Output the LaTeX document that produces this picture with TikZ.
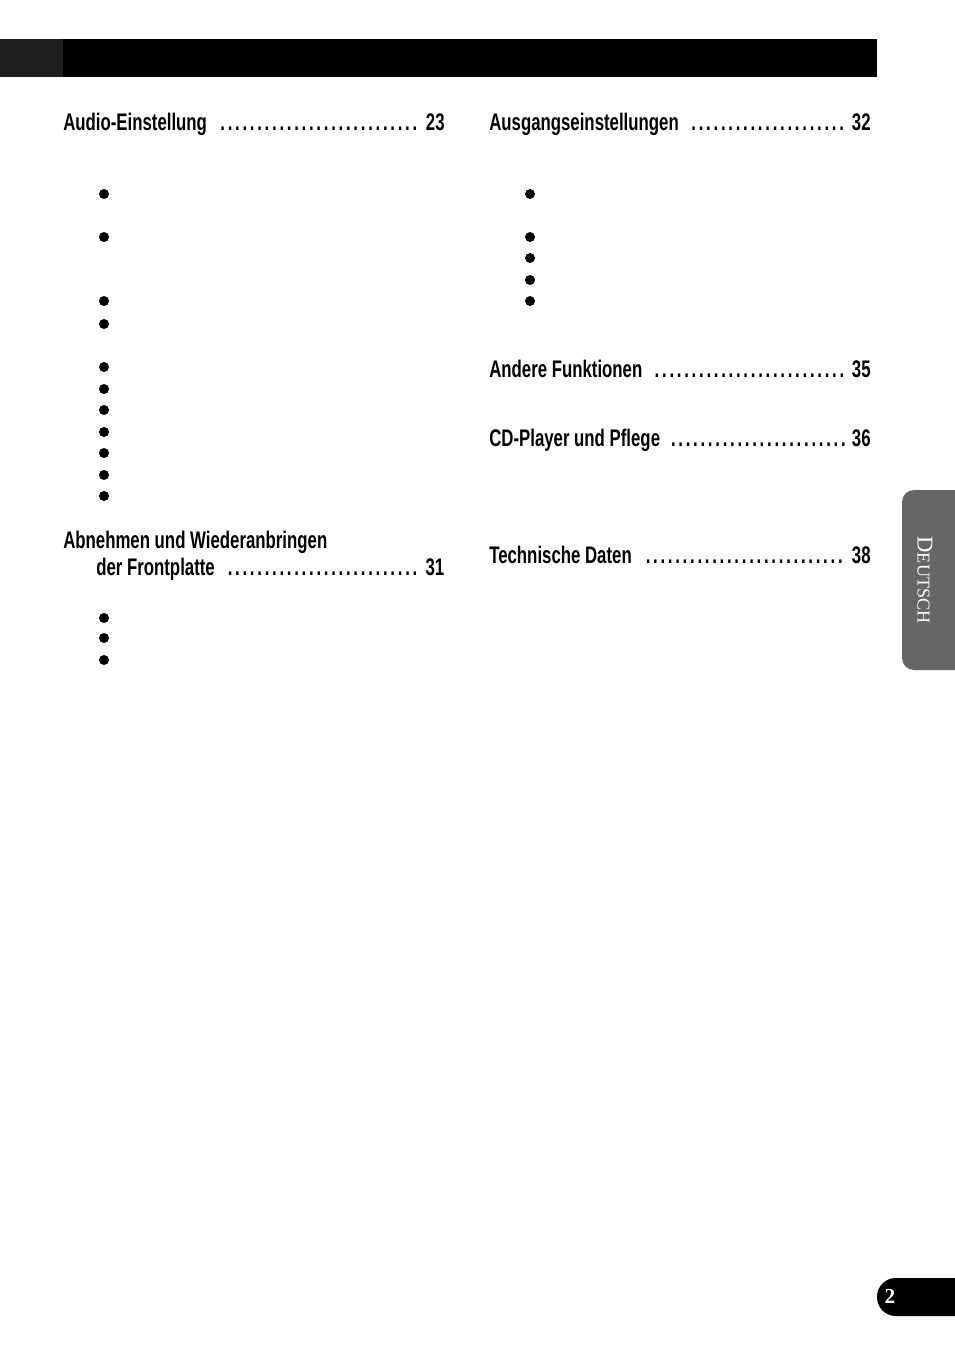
\documentclass[tikz,border=0pt]{standalone}
\usepackage{fontspec}
\setmainfont{Liberation Sans}
\setsansfont{Liberation Serif}
\usetikzlibrary{positioning}
% one line of the contents: width in pt, title, page
\newcommand{\tocline}[3]{\scalebox{0.7}[1]{\makebox[\dimexpr#1pt*10/7\relax][l]{\bfseries\fontsize{18}{20}\selectfont #2\ \ \dotfill\ #3}}}
\begin{document}
\begin{tikzpicture}[x=0.75pt,y=-0.75pt]
        \tikzset{bullet/.style={fill=black,circle,minimum size=7.5pt,inner sep=0pt},
                 toc/.style={anchor=west,inner sep=0pt}}
        \useasboundingbox (0,0) rectangle (954,1355);
        \fill[black] (0,39) rectangle (877,77);
        \fill[black!88] (0,39) rectangle (63,77);

        \node[toc] (audio) at (63,124) {\tocline{286}{Audio-Einstellung}{23}};
        \node[toc] (abn) at (63,542) {\scalebox{0.7}[1]{\bfseries\fontsize{18}{20}\selectfont Abnehmen und Wiederanbringen}};
        \node[toc] (front) at (96,569) {\tocline{261}{der Frontplatte}{31}};
        \node[toc] (ausg) at (489,124) {\tocline{286}{Ausgangseinstellungen}{32}};
        \node[toc] (andere) at (489,369) {\tocline{286}{Andere Funktionen}{35}};
        \node[toc] (cd) at (489,440) {\tocline{286}{CD-Player und Pflege}{36}};
        \node[toc] (tech) at (489,555) {\tocline{286}{Technische Daten}{38}};

        \foreach \y [count=\i] in {194,237,301,324,367,389,410,432,453,475,496,618,638,660}
          \node[bullet] (l\i) at (104,\y) {};
        \foreach \y [count=\i] in {194,237,258,280,301}
          \node[bullet] (r\i) at (530,\y) {};

        \fill[black!60, rounded corners=9pt] (902,490) rectangle (975,670);
        \node[white,rotate=-90,font=\sffamily\fontsize{17}{17}\selectfont] (tab) at (925,580) {D\scalebox{0.8}{EUTSCH}};
        \fill[black, rounded corners=14pt] (877,1278) rectangle (990,1316);
        \node[white,font=\sffamily\bfseries\fontsize{16}{16}\selectfont] (page) at (890,1296) {2};
\end{tikzpicture}
\end{document}
